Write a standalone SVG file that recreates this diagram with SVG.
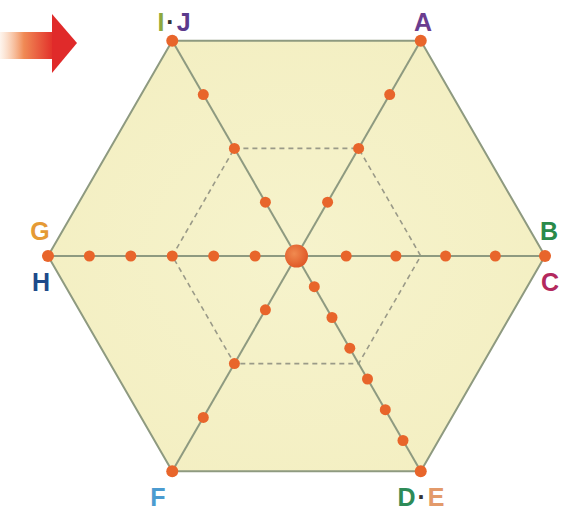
<svg xmlns="http://www.w3.org/2000/svg" width="566" height="513" viewBox="0 0 566 513">
<defs>
<linearGradient id="shaft" x1="0" y1="0" x2="1" y2="0">
<stop offset="0" stop-color="#f7b98a" stop-opacity="0.15"/>
<stop offset="0.45" stop-color="#f08a55"/>
<stop offset="1" stop-color="#e2302a"/>
</linearGradient>
<radialGradient id="fill" cx="0.5" cy="0.5" r="0.7">
<stop offset="0" stop-color="#f6f3cc"/>
<stop offset="1" stop-color="#f3eec0"/>
</radialGradient>
<radialGradient id="big" cx="0.4" cy="0.4" r="0.6">
<stop offset="0" stop-color="#f08a50"/>
<stop offset="1" stop-color="#e05a28"/>
</radialGradient>
</defs>
<style>
.edge{fill:none;stroke:#8e9a80;stroke-width:2}
.hex{fill:url(#fill);stroke:#8e9a80;stroke-width:2}
.dash{fill:none;stroke:#9a9a88;stroke-width:1.6;stroke-dasharray:5 4}
.dot{fill:#e8652b}
.lbl{font-family:"Liberation Sans",Arial,sans-serif;font-weight:bold;font-size:25px;text-anchor:middle}
</style>
<rect width="566" height="513" fill="#ffffff"/>
<g id="arrow">
<rect x="0" y="32" width="53" height="27" fill="url(#shaft)"/>
<polygon points="52,14 77,43 52,73" fill="#e02a2a"/>
</g>
<g id="hexagon">
<polygon class="hex" points="172.25,40.8 420.75,40.8 545,256 420.75,471.2 172.25,471.2 48,256"/>
<polygon class="dash" points="234.4,148.4 358.6,148.4 420.75,256 358.6,363.6 234.4,363.6 172.25,256"/>
</g>
<g id="connectors">
<line class="edge" x1="48" y1="256" x2="545" y2="256"/>
<line class="edge" x1="172.25" y1="40.8" x2="420.75" y2="471.2"/>
<line class="edge" x1="420.75" y1="40.8" x2="172.25" y2="471.2"/>
</g>
<g id="dots">
<circle class="dot" cx="89.4" cy="256" r="5.5"/>
<circle class="dot" cx="130.8" cy="256" r="5.5"/>
<circle class="dot" cx="172.25" cy="256" r="5.5"/>
<circle class="dot" cx="213.7" cy="256" r="5.5"/>
<circle class="dot" cx="255.1" cy="256" r="5.5"/>
<circle class="dot" cx="346.2" cy="256" r="5.5"/>
<circle class="dot" cx="395.9" cy="256" r="5.5"/>
<circle class="dot" cx="445.6" cy="256" r="5.5"/>
<circle class="dot" cx="495.3" cy="256" r="5.5"/>
<circle class="dot" cx="327.6" cy="202.2" r="5.5"/>
<circle class="dot" cx="358.6" cy="148.4" r="5.5"/>
<circle class="dot" cx="389.7" cy="94.6" r="5.5"/>
<circle class="dot" cx="265.4" cy="202.2" r="5.5"/>
<circle class="dot" cx="234.4" cy="148.4" r="5.5"/>
<circle class="dot" cx="203.3" cy="94.6" r="5.5"/>
<circle class="dot" cx="265.4" cy="309.8" r="5.5"/>
<circle class="dot" cx="234.4" cy="363.6" r="5.5"/>
<circle class="dot" cx="203.3" cy="417.4" r="5.5"/>
<circle class="dot" cx="314.3" cy="286.7" r="5.5"/>
<circle class="dot" cx="332.0" cy="317.5" r="5.5"/>
<circle class="dot" cx="349.8" cy="348.2" r="5.5"/>
<circle class="dot" cx="367.5" cy="379.0" r="5.5"/>
<circle class="dot" cx="385.3" cy="409.7" r="5.5"/>
<circle class="dot" cx="403.0" cy="440.5" r="5.5"/>
<circle cx="296.5" cy="256" r="11.5" fill="url(#big)"/>
</g>
<g id="node-IJ">
<circle class="dot" cx="172.25" cy="40.8" r="6"/>
<text class="lbl" x="174" y="31"><tspan fill="#8ea83c">I</tspan><tspan fill="#333" dx="2">·</tspan><tspan fill="#5b3a8c" dx="2">J</tspan></text>
</g>
<g id="node-A">
<circle class="dot" cx="420.75" cy="40.8" r="6"/>
<text class="lbl" x="423" y="31" fill="#6a3d8f">A</text>
</g>
<g id="node-BC">
<circle class="dot" cx="545" cy="256" r="6"/>
<text class="lbl" x="549" y="240" fill="#2a8a4a">B</text>
<text class="lbl" x="550" y="291" fill="#b3295e">C</text>
</g>
<g id="node-DE">
<circle class="dot" cx="420.75" cy="471.2" r="6"/>
<text class="lbl" x="421" y="506"><tspan fill="#2e8b57">D</tspan><tspan fill="#333" dx="2">·</tspan><tspan fill="#e39a6a" dx="2">E</tspan></text>
</g>
<g id="node-F">
<circle class="dot" cx="172.25" cy="471.2" r="6"/>
<text class="lbl" x="158" y="506" fill="#4b9bd0">F</text>
</g>
<g id="node-GH">
<circle class="dot" cx="48" cy="256" r="6"/>
<text class="lbl" x="40" y="240" fill="#e59a35">G</text>
<text class="lbl" x="41" y="291" fill="#1d4a8a">H</text>
</g>
</svg>
